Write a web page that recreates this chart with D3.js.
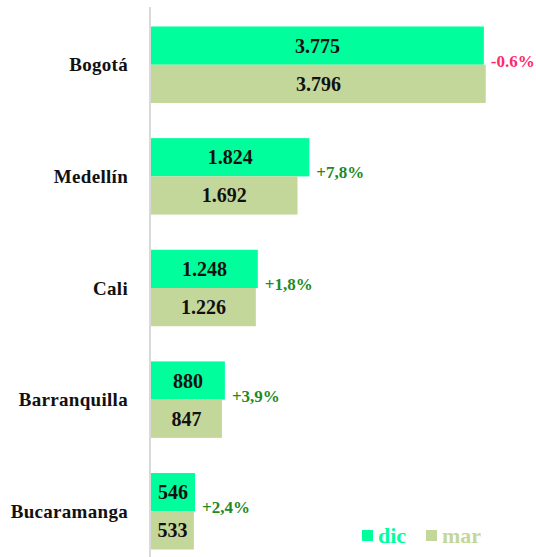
<!DOCTYPE html>
<html lang="es">
<head>
<meta charset="UTF-8" />
<script src="https://cdn.jsdelivr.net/npm/d3@7"></script>
<style>
  body { margin: 0; background: #fff; }
  text { font-family: "Liberation Serif", "DejaVu Serif", serif; font-weight: bold; }
</style>
</head>
<body>
<div id="fig"></div>
<script>
  const width = 536, height = 557;

  // data
  const cities = ["Bogotá", "Medellín", "Cali", "Barranquilla", "Bucaramanga"];
  const dic = [3775, 1824, 1248, 880, 546];
  const mar = [3796, 1692, 1226, 847, 533];
  const valueLabels = {
    dic: ["3.775", "1.824", "1.248", "880", "546"],
    mar: ["3.796", "1.692", "1.226", "847", "533"]
  };
  const changes = ["-0.6%", "+7,8%", "+1,8%", "+3,9%", "+2,4%"];
  const series = ["dic", "mar"];

  const colors = { dic: "#00ff9c", mar: "#c4d79b" };
  const up = "#1f8a1f", down = "#ff2a6d";

  const svg = d3.select("#fig").append("svg")
    .attr("width", width).attr("height", height);

  const x = d3.scaleLinear().domain([54, 4000]).range([151, 504]);
  const y = d3.scaleBand().domain(cities).range([26.5, 549.5]).paddingInner(0.315);
  const ySub = d3.scaleBand().domain(series).range([0, y.bandwidth()]);

  const rows = cities.map((c, i) => ({ city: c, dic: dic[i], mar: mar[i], i }));

  const g = svg.selectAll("g.city").data(rows).join("g")
    .attr("class", "city")
    .attr("transform", d => `translate(0,${y(d.city)})`);

  series.forEach(s => {
    g.append("rect")
      .attr("x", x(54))
      .attr("y", ySub(s))
      .attr("width", d => x(d[s]) - x(54))
      .attr("height", ySub.bandwidth())
      .attr("fill", colors[s]);

    g.append("text")
      .attr("x", d => (x(54) + x(d[s])) / 2)
      .attr("y", ySub(s) + ySub.bandwidth() / 2)
      .attr("dy", "0.35em")
      .attr("text-anchor", "middle")
      .attr("font-size", 20)
      .attr("fill", "#111")
      .text(d => valueLabels[s][d.i]);
  });

  // % change labels
  g.append("text")
    .attr("x", d => x(d.dic) + 7)
    .attr("y", ySub("mar") - 4)
    .attr("dy", "0.35em")
    .attr("font-size", 17)
    .attr("fill", d => changes[d.i].startsWith("-") ? down : up)
    .text(d => changes[d.i]);

  // category labels
  g.append("text")
    .attr("x", 128)
    .attr("y", y.bandwidth() / 2)
    .attr("dy", "0.35em")
    .attr("text-anchor", "end")
    .attr("font-size", 19)
    .attr("letter-spacing", 0.3)
    .attr("fill", "#111")
    .text(d => d.city);

  // vertical axis line
  svg.append("line")
    .attr("x1", 150).attr("x2", 150)
    .attr("y1", 7).attr("y2", height)
    .attr("stroke", "#d9d9d9").attr("stroke-width", 2);

  // legend
  const legend = svg.append("g").attr("transform", "translate(362,530)");
  const lx = { dic: 0, mar: 64 };
  series.forEach(s => {
    legend.append("rect")
      .attr("x", lx[s]).attr("y", 0)
      .attr("width", 11).attr("height", 11)
      .attr("fill", colors[s]);
    legend.append("text")
      .attr("x", lx[s] + 16).attr("y", 13)
      .attr("font-size", 22)
      .attr("fill", colors[s])
      .text(s);
  });
</script>
</body>
</html>
